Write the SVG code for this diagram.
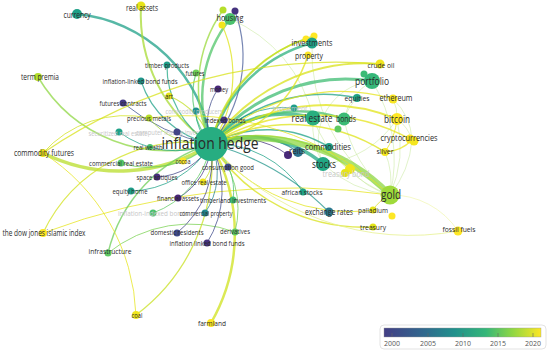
<svg xmlns="http://www.w3.org/2000/svg" width="550" height="354" viewBox="0 0 550 354">
<style>
.e{fill:none;stroke-linecap:round;opacity:0.75}
.t{fill:none;stroke:#c9e9a0;stroke-width:0.8;opacity:0.7}
.l{font-family:"Open Sans","Liberation Sans",sans-serif;fill:#2a2a2a;text-anchor:middle}
.f{fill:#c6c6c6}
.k{font-family:"Open Sans","Liberation Sans",sans-serif;font-size:7px;fill:#555;text-anchor:middle}
</style>
<defs>
<linearGradient id="vir" x1="0" y1="0" x2="1" y2="0">
<stop offset="0" stop-color="#433e85"/>
<stop offset="0.25" stop-color="#31688e"/>
<stop offset="0.45" stop-color="#21918c"/>
<stop offset="0.65" stop-color="#35b779"/>
<stop offset="0.82" stop-color="#90d743"/>
<stop offset="1" stop-color="#fde725"/>
</linearGradient>
</defs>
<rect width="550" height="354" fill="#fff"/>
<g id="connectors">
<path class="t" d="M390 195 A120 120 0 0 1 323 164"/>
<path class="t" d="M390 195 A130 130 0 0 1 344 119"/>
<path class="t" d="M390 195 A120 120 0 0 0 397 119"/>
<path class="t" d="M390 195 A80 80 0 0 0 385 152"/>
<path class="t" d="M390 195 A100 100 0 0 0 412 140"/>
<path class="t" d="M390 195 A130 130 0 0 1 313 118"/>
<path class="t" d="M390 195 A150 150 0 0 0 372 81"/>
<path class="t" d="M390 195 A80 80 0 0 1 350 169"/>
<path class="t" d="M390 195 A171 171 0 0 1 312 43"/>
<path class="t" d="M397 119 A40 40 0 0 1 412 140"/>
<path class="t" d="M393 99 A40 40 0 0 1 397 119"/>
<path class="t" d="M393 99 A60 60 0 0 1 412 140"/>
<path class="t" d="M372 81 A60 60 0 0 0 323 164"/>
<path class="t" d="M372 81 A60 60 0 0 0 344 119"/>
<path class="t" d="M313 118 A80 80 0 0 0 323 164"/>
<path class="t" d="M357 98 A60 60 0 0 0 344 119"/>
<path class="t" d="M230 19 A140 140 0 0 1 313 118"/>
<path class="t" d="M397 119 A100 100 0 0 1 323 164"/>
<path class="t" style="stroke:#edf49a" d="M458 231 A80 80 0 0 0 390 195"/>
<path class="e" stroke="#e8e419" stroke-width="1.2" d="M412 140 A40 40 0 0 1 385 152"/>
<path class="e" stroke="#e8e419" stroke-width="1" d="M385 152 A70 70 0 0 0 397 119"/>
<path class="e" stroke="#d8e219" stroke-width="1" d="M373 210 A40 40 0 0 1 390 195"/>
<path class="e" stroke="#1fa088" stroke-width="2.5" d="M211 144 A150 150 0 0 0 77 14"/>
<path class="e" stroke="#23968b" stroke-width="1.2" d="M211 144 A260 260 0 0 1 329 212"/>
<path class="e" stroke="#a8db34" stroke-width="2" d="M141 6 A155 155 0 0 0 211 144"/>
<path class="e" stroke="#8fd744" stroke-width="1.5" d="M38 77 A150 150 0 0 0 211 144"/>
<path class="e" stroke="#b8de29" stroke-width="3.5" d="M43 153 A170 170 0 0 0 211 144"/>
<path class="e" stroke="#d2e21b" stroke-width="1.2" d="M43 233 A160 160 0 0 1 211 144"/>
<path class="e" stroke="#e5e419" stroke-width="1" d="M43 233 A700 700 0 0 1 390 195"/>
<path class="e" stroke="#6ece58" stroke-width="1.5" d="M108 253 A150 150 0 0 1 211 144"/>
<path class="e" stroke="#7ad151" stroke-width="1" d="M108 253 A130 130 0 0 1 235 232"/>
<path class="e" stroke="#c8e020" stroke-width="1.3" d="M136 315 A190 190 0 0 0 211 144"/>
<path class="e" stroke="#e5e419" stroke-width="1" d="M136 315 A200 200 0 0 0 43 153"/>
<path class="e" stroke="#cfe11c" stroke-width="2.5" d="M211 323 A180 180 0 0 0 211 144"/>
<path class="e" stroke="#22a884" stroke-width="1.2" d="M167 65 A90 90 0 0 0 211 144"/>
<path class="e" stroke="#52c569" stroke-width="1.2" d="M196 73 A75 75 0 0 0 211 144"/>
<path class="e" stroke="#1fa088" stroke-width="1.2" d="M141 81 A95 95 0 0 0 211 144"/>
<path class="e" stroke="#3e4989" stroke-width="1" d="M218 89 A60 60 0 0 0 211 144"/>
<path class="e" stroke="#c2df23" stroke-width="1.2" d="M169 96 A70 70 0 0 1 211 144"/>
<path class="e" stroke="#3b528b" stroke-width="1" d="M123 103 A200 200 0 0 0 211 144"/>
<path class="e" stroke="#22a884" stroke-width="1" d="M196 111 A40 40 0 0 0 211 144"/>
<path class="e" stroke="#a0da39" stroke-width="1" d="M149 118 A70 70 0 0 0 211 144"/>
<path class="e" stroke="#46327e" stroke-width="1" d="M224 120 A30 30 0 0 0 211 144"/>
<path class="e" stroke="#1fa187" stroke-width="1" d="M119 132 A95 95 0 0 0 211 144"/>
<path class="e" stroke="#6ece58" stroke-width="1.2" d="M121 163 A95 95 0 0 0 211 144"/>
<path class="e" stroke="#414487" stroke-width="1" d="M157 177 A65 65 0 0 0 211 144"/>
<path class="e" stroke="#c2df23" stroke-width="1" d="M203 182 A40 40 0 0 0 211 144"/>
<path class="e" stroke="#1fa187" stroke-width="1" d="M131 191 A95 95 0 0 0 211 144"/>
<path class="e" stroke="#433e85" stroke-width="1" d="M178 198 A65 65 0 0 0 211 144"/>
<path class="e" stroke="#4ac16d" stroke-width="1" d="M233 200 A60 60 0 0 0 211 144"/>
<path class="e" stroke="#5ec962" stroke-width="1" d="M153 213 A90 90 0 0 0 211 144"/>
<path class="e" stroke="#25838e" stroke-width="1" d="M205 213 A70 70 0 0 0 211 144"/>
<path class="e" stroke="#414487" stroke-width="1" d="M177 233 A95 95 0 0 0 211 144"/>
<path class="e" stroke="#6ece58" stroke-width="1" d="M235 232 A91 91 0 0 0 211 144"/>
<path class="e" stroke="#3e4a89" stroke-width="1" d="M207 243 A100 100 0 0 0 211 144"/>
<path class="e" stroke="#1fa187" stroke-width="1" d="M303 192 A104 104 0 0 0 211 144"/>
<path class="e" stroke="#2a788e" stroke-width="1.5" d="M298 152 A87 87 0 0 0 211 144"/>
<path class="e" stroke="#46337e" stroke-width="1" d="M288 155 A80 80 0 0 0 211 144"/>
<path class="e" stroke="#1fa187" stroke-width="1.5" d="M329 147 A118 118 0 0 0 211 144"/>
<path class="e" stroke="#22a884" stroke-width="3.5" d="M323 164 A114 114 0 0 0 211 144"/>
<path class="e" stroke="#b5de2b" stroke-width="1.5" d="M350 169 A141 141 0 0 0 211 144"/>
<path class="e" stroke="#2db27d" stroke-width="3.5" d="M313 118 A105 105 0 0 0 211 144"/>
<path class="e" stroke="#4ac16d" stroke-width="2.5" d="M344 119 A135 135 0 0 0 211 144"/>
<path class="e" stroke="#20a386" stroke-width="1.5" d="M357 98 A153 153 0 0 0 211 144"/>
<path class="e" stroke="#1f9e89" stroke-width="1" d="M294 108 A90 90 0 0 0 211 144"/>
<path class="e" stroke="#3fbc73" stroke-width="3" d="M372 81 A173 173 0 0 0 211 144"/>
<path class="e" stroke="#d8e219" stroke-width="2" d="M380 64 A187 187 0 0 0 211 144"/>
<path class="e" stroke="#e5e419" stroke-width="1.2" d="M393 99 A187 187 0 0 0 211 144"/>
<path class="e" stroke="#e2e418" stroke-width="2" d="M397 119 A188 188 0 0 0 211 144"/>
<path class="e" stroke="#e5e419" stroke-width="1.5" d="M412 140 A201 201 0 0 0 211 144"/>
<path class="e" stroke="#dde318" stroke-width="1.5" d="M385 152 A174 174 0 0 0 211 144"/>
<path class="e" stroke="#8fd744" stroke-width="6" d="M390 195 A186 186 0 0 0 211 144"/>
<path class="e" stroke="#e2e418" stroke-width="1" d="M373 210 A175 175 0 0 1 211 144"/>
<path class="e" stroke="#d8e219" stroke-width="1.5" d="M373 227 A182 182 0 0 1 211 144"/>
<path class="e" stroke="#e6f08a" stroke-width="1" d="M458 231 A262 262 0 0 1 211 144"/>
<path class="e" stroke="#52c569" stroke-width="2.5" d="M230 19 A126 126 0 0 0 211 144"/>
<path class="e" stroke="#9bd93c" stroke-width="1.5" d="M223 10 A134 134 0 0 0 211 144"/>
<path class="e" stroke="#4a5e9a" stroke-width="1.2" d="M235 11 A135 135 0 0 1 211 144"/>
<path class="e" stroke="#dde318" stroke-width="1.2" d="M222 25 A120 120 0 0 1 211 144"/>
<path class="e" stroke="#2db27d" stroke-width="2.5" d="M312 43 A143 143 0 0 0 211 144"/>
<path class="e" stroke="#cde11d" stroke-width="1.5" d="M306 39 A142 142 0 0 0 211 144"/>
<path class="e" stroke="#c2df23" stroke-width="1.5" d="M314 36 A149 149 0 0 0 211 144"/>
<path class="e" stroke="#e2e418" stroke-width="1.5" d="M308 55 A132 132 0 0 1 211 144"/>
<path class="e" stroke="#d8e219" stroke-width="1.2" d="M43 153 A520 520 0 0 1 380 64"/>
<path class="e" stroke="#e5e419" stroke-width="1" d="M149 118 A300 300 0 0 1 390 195"/>
<path class="e" stroke="#d2e21b" stroke-width="1" d="M43 153 A110 110 0 0 1 149 118"/>
</g>
<g id="n-currency"><circle cx="77" cy="14" r="5" fill="#1fa088"/><text class="l" x="77" y="18" font-size="8.5" textLength="27" lengthAdjust="spacingAndGlyphs">currency</text></g>
<g id="n-real-assets"><circle cx="141" cy="6" r="4.5" fill="#e7e419"/><text class="l" x="142" y="11" font-size="8.5" textLength="32" lengthAdjust="spacingAndGlyphs">real assets</text></g>
<g id="n-timber-products"><circle cx="167" cy="65" r="3.5" fill="#1f9e89"/><text class="l" x="167" y="68" font-size="8" textLength="44" lengthAdjust="spacingAndGlyphs">timber products</text></g>
<g id="n-futures"><circle cx="196" cy="73" r="3.5" fill="#6ece58"/><text class="l" x="195" y="76" font-size="7.5" textLength="19" lengthAdjust="spacingAndGlyphs">futures</text></g>
<g id="n-ilbf"><circle cx="141" cy="81" r="3.5" fill="#1f968b"/><text class="l" x="140" y="84" font-size="8" textLength="75" lengthAdjust="spacingAndGlyphs">inflation-linked bond funds</text></g>
<g id="n-money"><circle cx="218" cy="89" r="3.5" fill="#482878"/><text class="l" x="219" y="92" font-size="7.5" textLength="18" lengthAdjust="spacingAndGlyphs">money</text></g>
<g id="n-art"><circle cx="169" cy="96" r="3.5" fill="#e2e418"/><text class="l" x="169" y="99" font-size="7.5" textLength="8" lengthAdjust="spacingAndGlyphs">art</text></g>
<g id="n-futures-contracts"><circle cx="123" cy="103" r="3.5" fill="#443a83"/><text class="l" x="123" y="106" font-size="8" textLength="47" lengthAdjust="spacingAndGlyphs">futures contracts</text></g>
<g id="n-commodity-producers"><circle cx="196" cy="111" r="3.5" fill="#21918c"/><text class="l f" x="194" y="114" font-size="8" textLength="57" lengthAdjust="spacingAndGlyphs">commodity producers</text></g>
<g id="n-precious-metals"><circle cx="149" cy="118" r="3.5" fill="#b8de29"/><text class="l" x="149" y="121" font-size="8" textLength="44" lengthAdjust="spacingAndGlyphs">precious metals</text></g>
<g id="n-indexed-bonds"><circle cx="224" cy="120" r="3.5" fill="#46327e"/><text class="l" x="225" y="123" font-size="8" textLength="41" lengthAdjust="spacingAndGlyphs">indexed bonds</text></g>
<g id="n-securitized"><circle cx="119" cy="132" r="3.5" fill="#1fa187"/><text class="l f" x="118" y="136" font-size="8" textLength="59" lengthAdjust="spacingAndGlyphs">securitized real estate</text></g>
<g id="n-computer"><text class="l f" x="177" y="135" font-size="8" textLength="82" lengthAdjust="spacingAndGlyphs">computer leasing investments</text><circle cx="177" cy="132" r="3.5" fill="#414487"/></g>
<g id="n-real-wealth"><circle cx="150" cy="147" r="3" fill="#4ac16d"/><text class="l" x="148" y="150" font-size="8" textLength="29" lengthAdjust="spacingAndGlyphs">real wealth</text></g>
<g id="n-commercial-real-estate"><circle cx="121" cy="163" r="3.5" fill="#54c568"/><text class="l" x="121" y="166" font-size="8" textLength="64" lengthAdjust="spacingAndGlyphs">commercial real estate</text></g>
<g id="n-cocoa"><circle cx="183" cy="161" r="3.5" fill="#fde725"/><text class="l" x="183" y="164" font-size="8" textLength="15" lengthAdjust="spacingAndGlyphs">cocoa</text></g>
<g id="n-consumption-good"><circle cx="228" cy="167" r="3.5" fill="#3e4989"/><text class="l" x="228" y="170" font-size="8" textLength="52" lengthAdjust="spacingAndGlyphs">consumption good</text></g>
<g id="n-space-antiques"><circle cx="157" cy="177" r="3.5" fill="#472d7b"/><text class="l" x="157" y="180" font-size="8" textLength="41" lengthAdjust="spacingAndGlyphs">space antiques</text></g>
<g id="n-office-real-estate"><circle cx="203" cy="182" r="3.5" fill="#f1e51d"/><text class="l" x="204" y="185" font-size="8" textLength="45" lengthAdjust="spacingAndGlyphs">office real estate</text></g>
<g id="n-equity-home"><circle cx="131" cy="191" r="3.5" fill="#1f9e89"/><text class="l" x="130" y="194" font-size="8" textLength="35" lengthAdjust="spacingAndGlyphs">equity home</text></g>
<g id="n-financial-assets"><circle cx="178" cy="198" r="3.5" fill="#482576"/><text class="l" x="178" y="201" font-size="8" textLength="42" lengthAdjust="spacingAndGlyphs">financial assets</text></g>
<g id="n-timberland"><circle cx="233" cy="200" r="3.5" fill="#3fbc73"/><text class="l" x="233" y="203" font-size="8" textLength="66" lengthAdjust="spacingAndGlyphs">timberland investments</text></g>
<g id="n-inflation-indexed-bonds"><circle cx="153" cy="213" r="3.5" fill="#4ac16d"/><text class="l f" x="153" y="216" font-size="8" textLength="70" lengthAdjust="spacingAndGlyphs">inflation-indexed bonds</text></g>
<g id="n-commercial-property"><circle cx="205" cy="213" r="3.5" fill="#23888e"/><text class="l" x="206" y="216" font-size="8" textLength="53" lengthAdjust="spacingAndGlyphs">commercial property</text></g>
<g id="n-domestic-residents"><circle cx="177" cy="233" r="3.5" fill="#3e4989"/><text class="l" x="177" y="235" font-size="8" textLength="53" lengthAdjust="spacingAndGlyphs">domestic residents</text></g>
<g id="n-derivatives"><circle cx="235" cy="232" r="3.5" fill="#5ec962"/><text class="l" x="235" y="234" font-size="8" textLength="30" lengthAdjust="spacingAndGlyphs">derivatives</text></g>
<g id="n-ilbf2"><circle cx="207" cy="243" r="3.5" fill="#46337e"/><text class="l" x="207" y="246" font-size="8" textLength="75" lengthAdjust="spacingAndGlyphs">inflation linked bond funds</text></g>
<g id="n-african-stocks"><circle cx="303" cy="192" r="3.5" fill="#20a386"/><text class="l" x="302" y="195" font-size="8" textLength="41" lengthAdjust="spacingAndGlyphs">african stocks</text></g>
<g id="n-exchange-rates"><circle cx="329" cy="212" r="4.5" fill="#2a788e"/><text class="l" x="329" y="215" font-size="8.5" textLength="48" lengthAdjust="spacingAndGlyphs">exchange rates</text></g>
<g id="n-x-purple"><circle cx="288" cy="155" r="4" fill="#482878"/></g>
<g id="n-reits"><circle cx="298" cy="152" r="5" fill="#2c728e"/><text class="l" x="297" y="154" font-size="9" textLength="16" lengthAdjust="spacingAndGlyphs">reits</text></g>
<g id="n-commodities"><circle cx="329" cy="147" r="4" fill="#1fa187"/><text class="l" x="328" y="150" font-size="8.5" textLength="46" lengthAdjust="spacingAndGlyphs">commodities</text></g>
<g id="n-treasury-bond"><circle cx="350" cy="169" r="5" fill="#f1e51d"/><circle cx="345" cy="173" r="4" fill="#e5e419"/><text class="l f" x="346" y="177" font-size="8.5" textLength="47" lengthAdjust="spacingAndGlyphs">treasury bond</text></g>
<g id="n-stocks"><circle cx="323" cy="164" r="7" fill="#22a884"/><text class="l" x="324" y="167.5" font-size="10" textLength="24" lengthAdjust="spacingAndGlyphs">stocks</text></g>
<g id="n-x-green1"><circle cx="338" cy="129" r="3.5" fill="#5ec962"/></g>
<g id="n-real-estate"><circle cx="313" cy="118" r="7.5" fill="#29af7f"/><text class="l" x="312" y="121.5" font-size="10.5" textLength="41" lengthAdjust="spacingAndGlyphs">real estate</text></g>
<g id="n-bonds"><circle cx="344" cy="119" r="6.5" fill="#3bbb75"/><text class="l" x="346" y="122" font-size="9" textLength="20" lengthAdjust="spacingAndGlyphs">bonds</text></g>
<g id="n-equities"><circle cx="357" cy="98" r="4" fill="#20a386"/><text class="l" x="357" y="101" font-size="8" textLength="25" lengthAdjust="spacingAndGlyphs">equities</text></g>
<g id="n-investment"><circle cx="294" cy="108" r="3.5" fill="#1f9e89"/><text class="l f" x="290" y="111" font-size="8" textLength="35" lengthAdjust="spacingAndGlyphs">investment</text></g>
<g id="n-x-green2"><circle cx="364" cy="74" r="3.5" fill="#3bbb75"/></g>
<g id="n-portfolio"><circle cx="372" cy="81" r="8" fill="#35b779"/><text class="l" x="372" y="84.5" font-size="10.5" textLength="34" lengthAdjust="spacingAndGlyphs">portfolio</text></g>
<g id="n-crude-oil"><circle cx="380" cy="64" r="4.5" fill="#f1e51d"/><text class="l" x="381" y="68" font-size="8" textLength="27" lengthAdjust="spacingAndGlyphs">crude oil</text></g>
<g id="n-ethereum"><circle cx="393" cy="99" r="4.5" fill="#f8e621"/><text class="l" x="396" y="101" font-size="8.5" textLength="33" lengthAdjust="spacingAndGlyphs">ethereum</text></g>
<g id="n-bitcoin"><circle cx="397" cy="119" r="6" fill="#fde725"/><text class="l" x="397" y="122.5" font-size="10" textLength="26" lengthAdjust="spacingAndGlyphs">bitcoin</text></g>
<g id="n-cryptocurrencies"><circle cx="410" cy="139" r="4.5" fill="#fde725"/><circle cx="414" cy="141" r="4.5" fill="#f4e61e"/><text class="l" x="409" y="141" font-size="8.5" textLength="57" lengthAdjust="spacingAndGlyphs">cryptocurrencies</text></g>
<g id="n-silver"><circle cx="385" cy="152" r="4" fill="#f4e61e"/><text class="l" x="385" y="154" font-size="8" textLength="17" lengthAdjust="spacingAndGlyphs">silver</text></g>
<g id="n-gold"><circle cx="390" cy="195" r="9.5" fill="#9fda3a"/><text class="l" x="391" y="199" font-size="12.5" textLength="20" lengthAdjust="spacingAndGlyphs">gold</text></g>
<g id="n-palladium"><circle cx="373" cy="210" r="3.5" fill="#e5e419"/><text class="l" x="373" y="213" font-size="8" textLength="30" lengthAdjust="spacingAndGlyphs">palladium</text></g>
<g id="n-x-yellow"><circle cx="392" cy="216" r="3.5" fill="#fde725"/></g>
<g id="n-treasury"><circle cx="373" cy="227" r="3.5" fill="#e2e418"/><text class="l" x="373" y="230" font-size="8" textLength="26" lengthAdjust="spacingAndGlyphs">treasury</text></g>
<g id="n-fossil-fuels"><circle cx="458" cy="231" r="4.5" fill="#fde725"/><text class="l" x="459" y="232" font-size="8" textLength="33" lengthAdjust="spacingAndGlyphs">fossil fuels</text></g>
<g id="n-housing-cluster"><circle cx="223" cy="10" r="3.5" fill="#b5de2b"/><circle cx="235" cy="11" r="3.5" fill="#46337e"/><circle cx="222" cy="25" r="3.5" fill="#f1e51d"/></g>
<g id="n-housing"><circle cx="230" cy="19" r="6" fill="#4ac16d"/><text class="l" x="230" y="21" font-size="9" textLength="27" lengthAdjust="spacingAndGlyphs">housing</text></g>
<g id="n-investments-cluster"><circle cx="306" cy="39" r="3.5" fill="#fde725"/><circle cx="314" cy="36" r="3.5" fill="#fde725"/></g>
<g id="n-investments"><circle cx="312" cy="43" r="5.5" fill="#1fa187"/><text class="l" x="312" y="46" font-size="9" textLength="41" lengthAdjust="spacingAndGlyphs">investments</text></g>
<g id="n-property"><circle cx="308" cy="55" r="3.5" fill="#fde725"/><text class="l" x="309" y="59" font-size="8.5" textLength="28" lengthAdjust="spacingAndGlyphs">property</text></g>
<g id="n-term-premia"><circle cx="38" cy="77" r="4" fill="#b5de2b"/><text class="l" x="40" y="80" font-size="8.5" textLength="38" lengthAdjust="spacingAndGlyphs">term premia</text></g>
<g id="n-commodity-futures"><circle cx="43" cy="153" r="4" fill="#f1e51d"/><text class="l" x="44" y="156" font-size="8.5" textLength="60" lengthAdjust="spacingAndGlyphs">commodity futures</text></g>
<g id="n-dow-jones"><circle cx="43" cy="233" r="4" fill="#fde725"/><text class="l" x="44" y="236" font-size="8.5" textLength="83" lengthAdjust="spacingAndGlyphs">the dow jones islamic index</text></g>
<g id="n-infrastructure"><circle cx="108" cy="253" r="3.5" fill="#5ec962"/><text class="l" x="110" y="254" font-size="8" textLength="43" lengthAdjust="spacingAndGlyphs">infrastructure</text></g>
<g id="n-coal"><circle cx="136" cy="315" r="4" fill="#f1e51d"/><text class="l" x="137" y="318" font-size="8" textLength="11" lengthAdjust="spacingAndGlyphs">coal</text></g>
<g id="n-farmland"><circle cx="211" cy="323" r="4" fill="#fde725"/><text class="l" x="212" y="326" font-size="8" textLength="28" lengthAdjust="spacingAndGlyphs">farmland</text></g>
<g id="n-inflation-hedge"><circle cx="211" cy="144" r="17" fill="#27ad81"/><text class="l" x="210" y="149" font-size="17" textLength="97" lengthAdjust="spacingAndGlyphs">inflation hedge</text></g>
<g id="legend">
<rect x="380" y="325" width="166" height="24" rx="4" fill="#fff" stroke="#dcdcdc" stroke-width="0.8"/>
<rect x="384" y="328" width="157" height="9" fill="url(#vir)" stroke="#999" stroke-width="0.4"/>
<g stroke="#666" stroke-width="0.6"><line x1="392" y1="333" x2="392" y2="337"/><line x1="428" y1="333" x2="428" y2="337"/><line x1="463" y1="333" x2="463" y2="337"/><line x1="498" y1="333" x2="498" y2="337"/><line x1="533" y1="333" x2="533" y2="337"/></g>
<text class="k" x="392" y="346">2000</text><text class="k" x="428" y="346">2005</text><text class="k" x="463" y="346">2010</text><text class="k" x="498" y="346">2015</text><text class="k" x="533" y="346">2020</text>
</g>
</svg>
